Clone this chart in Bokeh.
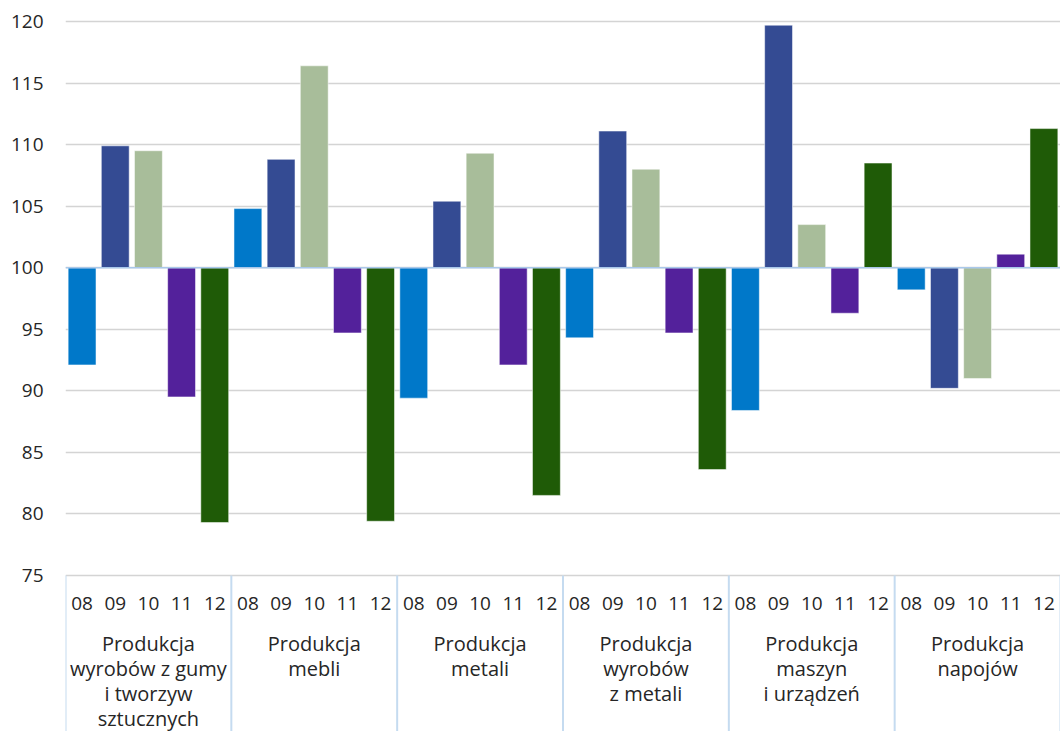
from bokeh.plotting import figure
from bokeh.models import Range1d, FixedTicker, Span, ColumnDataSource
from bokeh.core.properties import value
from bokeh.embed import file_html
from bokeh.resources import INLINE

# ---- data ----
groups = [
    "Produkcja\nwyrobów z gumy\ni tworzyw\nsztucznych",
    "Produkcja\nmebli",
    "Produkcja\nmetali",
    "Produkcja\nwyrobów\nz metali",
    "Produkcja\nmaszyn\ni urządzeń",
    "Produkcja\nnapojów",
]
months = ["08", "09", "10", "11", "12"]
m08 = [92.1, 104.8, 89.4, 94.3, 88.4, 98.2]
m09 = [109.9, 108.8, 105.4, 111.1, 119.7, 90.2]
m10 = [109.5, 116.4, 109.3, 108.0, 103.5, 91.0]
m11 = [89.5, 94.7, 92.1, 94.7, 96.3, 101.1]
m12 = [79.3, 79.4, 81.5, 83.6, 108.5, 111.3]
series = [m08, m09, m10, m11, m12]
colors = ["#0078c9", "#344b93", "#a8bd9a", "#53219b", "#1f5b07"]
y_ticks = [75, 80, 85, 90, 95, 100, 105, 110, 115, 120]
baseline = 100

FONT = "Open Sans"
TXT = "#262626"
n_m = len(months)
n_g = len(groups)
Y_BOTTOM = 62.32

# ---- figure ----
p = figure(width=1060, height=731, output_backend="svg", toolbar_location=None,
           x_range=Range1d(0, n_g * n_m), y_range=Range1d(Y_BOTTOM, 121.706),
           min_border_left=65, min_border_right=0, min_border_top=0, min_border_bottom=0)
p.outline_line_color = None
p.xaxis.visible = False
p.xgrid.visible = False

ticker = FixedTicker(ticks=y_ticks)
p.yaxis.ticker = ticker
p.yaxis.axis_line_color = None
p.yaxis.major_tick_line_color = None
p.yaxis.minor_tick_line_color = None
p.yaxis.major_label_standoff = 16
p.yaxis.major_label_text_font = FONT
p.yaxis.major_label_text_font_size = "19px"
p.yaxis.major_label_text_color = TXT
p.ygrid.ticker = ticker
p.ygrid.grid_line_color = "#d4d4d4"
p.ygrid.grid_line_width = 1.5

# bars
for i, (vals, col) in enumerate(zip(series, colors)):
    xs = [g * n_m + i + 0.5 for g in range(n_g)]
    src = ColumnDataSource(dict(x=xs, top=vals, bottom=[baseline] * n_g))
    p.vbar(x="x", top="top", bottom="bottom", width=0.84, source=src,
           fill_color=col, line_color="white", line_width=1, line_alpha=0.5)

p.add_layout(Span(location=baseline, dimension="width", line_color="#a9c8ea", line_width=1.5))

# category separators
bounds = [g * n_m for g in range(n_g + 1)]
p.segment(x0=bounds, y0=[75] * len(bounds), x1=bounds, y1=[Y_BOTTOM] * len(bounds),
          line_color="#c5dbf0", line_width=2)

# month labels
mx = [g * n_m + i + 0.5 for g in range(n_g) for i in range(n_m)]
mt = [months[i] for g in range(n_g) for i in range(n_m)]
p.text(x=mx, y=[72.72] * len(mx), text=mt, text_align="center", text_baseline="middle",
       text_font=value(FONT), text_font_size="19px", text_color=TXT)

# group labels
gx = [g * n_m + n_m / 2 for g in range(n_g)]
p.text(x=gx, y=[70.53] * n_g, text=groups, text_align="center", text_baseline="top",
       text_font=value(FONT), text_font_size="20px", text_color=TXT, text_line_height=0.92)

open("out.html", "w").write(file_html(p, INLINE))
